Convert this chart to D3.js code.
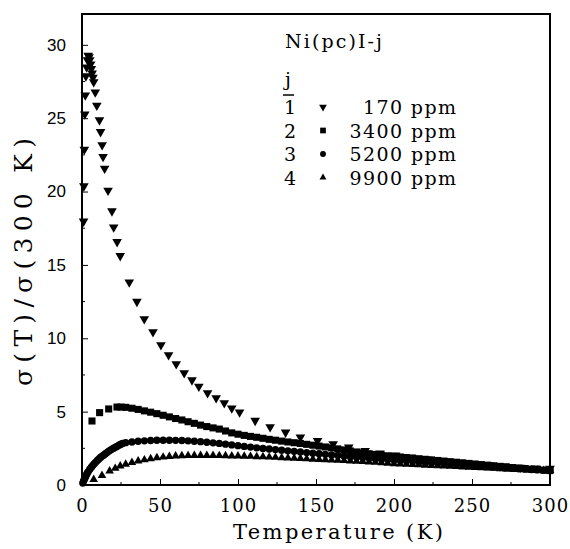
<!DOCTYPE html>
<html>
<head>
<meta charset="utf-8">
<script src="https://cdn.jsdelivr.net/npm/d3@7"></script>
<style>
  body { margin: 0; background: #fff; }
</style>
</head>
<body>
<svg id="chart"></svg>
<script>
// sample 1: 170 ppm (down triangles)
var s1Temp = [1.0, 1.2, 1.5, 1.8, 2.1, 2.5, 3.0, 3.5, 4.0, 4.5, 5.0, 5.5, 6.0, 6.5, 7.0, 7.5, 8.5, 9.5, 11.2, 11.9, 12.9, 13.5, 14.5, 16.7, 19.2, 20.3, 22.5, 24.5, 30.3, 35.2, 39.9, 45.5, 50.6, 55.5, 60.4, 65.5, 70.5, 74.9, 80.5, 86, 91.2, 96, 101, 111, 120.6, 130.5, 140, 151, 161, 171, 181.5, 191, 201, 211, 221, 231, 241, 251, 261, 271, 281, 291, 300];
var s1Val = [17.9, 20.3, 22.8, 25.2, 26.5, 27.8, 28.4, 28.9, 29.2, 29.1, 28.9, 28.6, 28.3, 28.0, 27.7, 27.4, 26.7, 25.8, 24.8, 24.0, 23.1, 22.3, 21.5, 20.0, 18.6, 17.5, 16.5, 15.55, 13.75, 12.43, 11.25, 10.36, 9.48, 8.79, 8.18, 7.57, 7.08, 6.65, 6.2, 5.86, 5.52, 5.16, 4.89, 4.32, 3.88, 3.52, 3.19, 2.95, 2.73, 2.5, 2.27, 2.1, 1.95, 1.8, 1.68, 1.57, 1.47, 1.38, 1.29, 1.2, 1.13, 1.07, 1.05];

// common temperature grid of the dense part (samples 2-4)
var gridTemp = [28, 32, 36, 40, 44, 48, 52, 56, 60, 64, 68, 72, 76, 80, 84, 88, 92, 96, 100, 104, 108, 112, 116, 120, 124, 128, 132, 136, 140, 144, 148, 152, 156, 160, 164, 168, 172, 176, 180, 184, 188, 192, 196, 200, 204, 208, 212, 216, 220, 224, 228, 232, 236, 240, 244, 248, 252, 256, 260, 264, 268, 272, 276, 280, 284, 288, 292, 296, 300];

// sample 2: 3400 ppm (squares)
var s2TempLow = [6.4, 11.3, 17.1, 22.4, 25];
var s2ValLow = [4.43, 5.0, 5.25, 5.38, 5.38];
var s2ValGrid = [5.36, 5.3, 5.22, 5.12, 5.03, 4.93, 4.82, 4.71, 4.6, 4.5,
  4.38, 4.27, 4.15, 4.05, 3.96, 3.88, 3.75, 3.62, 3.53, 3.45,
  3.38, 3.32, 3.25, 3.18, 3.12, 3.06, 3.0, 2.95, 2.9, 2.84,
  2.78, 2.72, 2.66, 2.6, 2.53, 2.46, 2.39, 2.32, 2.26, 2.2,
  2.15, 2.1, 2.06, 2.02, 1.98, 1.94, 1.9, 1.86, 1.82, 1.78,
  1.74, 1.7, 1.66, 1.62, 1.58, 1.54, 1.5, 1.46, 1.42, 1.38,
  1.34, 1.3, 1.26, 1.22, 1.19, 1.15, 1.12, 1.08, 1.05];

// sample 3: 5200 ppm (circles)
var s3TempLow = [0.5, 1, 1.5, 2, 2.5, 3, 3.5, 4, 5, 6, 7, 8, 9, 10, 11, 12, 13, 14, 15, 16, 17, 18, 19, 20, 21, 22, 23, 24, 25, 26];
var s3ValLow = [0.2, 0.34, 0.45, 0.57, 0.68, 0.8, 0.9, 0.98, 1.14, 1.28, 1.42, 1.54, 1.65, 1.76, 1.86, 1.96, 2.04, 2.12, 2.2, 2.28, 2.36, 2.43, 2.5, 2.56, 2.62, 2.68, 2.74, 2.8, 2.85, 2.9];
var s3ValGrid = [2.95, 3.0, 3.05, 3.08, 3.1, 3.12, 3.12, 3.12, 3.11, 3.1,
  3.08, 3.05, 3.02, 2.98, 2.94, 2.9, 2.85, 2.8, 2.75, 2.7,
  2.65, 2.6, 2.56, 2.52, 2.48, 2.44, 2.4, 2.36, 2.32, 2.28,
  2.24, 2.2, 2.16, 2.12, 2.08, 2.04, 2.0, 1.96, 1.93, 1.9,
  1.86, 1.83, 1.8, 1.77, 1.74, 1.71, 1.68, 1.65, 1.62, 1.59,
  1.56, 1.53, 1.5, 1.47, 1.44, 1.41, 1.38, 1.35, 1.32, 1.29,
  1.26, 1.23, 1.2, 1.17, 1.15, 1.12, 1.1, 1.07, 1.05];

// sample 4: 9900 ppm (up triangles)
var s4TempLow = [7.5, 12.8, 17.7, 21.3, 24.5];
var s4ValLow = [0.45, 0.72, 1.02, 1.2, 1.36];
var s4ValGrid = [1.48, 1.6, 1.7, 1.78, 1.86, 1.92, 1.97, 2.01, 2.04, 2.06,
  2.07, 2.08, 2.08, 2.08, 2.08, 2.07, 2.06, 2.05, 2.04, 2.03,
  2.02, 2.0, 1.99, 1.97, 1.95, 1.93, 1.91, 1.89, 1.87, 1.85,
  1.83, 1.81, 1.79, 1.77, 1.75, 1.73, 1.71, 1.69, 1.67, 1.64,
  1.61, 1.58, 1.55, 1.52, 1.5, 1.48, 1.46, 1.44, 1.42, 1.4,
  1.38, 1.36, 1.34, 1.32, 1.3, 1.28, 1.26, 1.24, 1.22, 1.2,
  1.18, 1.16, 1.14, 1.12, 1.1, 1.09, 1.08, 1.06, 1.05];

var legendKeys = ["1", "2", "3", "4"];
var legendLabels = ["170 ppm", "3400 ppm", "5200 ppm", "9900 ppm"];
var xTicks = [0, 50, 100, 150, 200, 250, 300];
var yTicks = [0, 5, 10, 15, 20, 25, 30];

var W = 570, H = 549;
var margin = { top: 14, right: 20, bottom: 64, left: 82 },
  width = W - margin.left - margin.right,
  height = H - margin.top - margin.bottom;

var typew = "'DejaVu Serif', 'Liberation Serif', serif";
var sans = "'Liberation Sans', Arial, sans-serif";

var root = d3.select("#chart").attr("width", W).attr("height", H);
var svg = root.append("g")
  .attr("transform", "translate(" + margin.left + "," + margin.top + ")");

var x = d3.scaleLinear().domain([0, 300]).range([0, width]);
var y = d3.scaleLinear().domain([0, 32.1]).range([height, 0]);

function zip(ts, vs) { return ts.map(function (t, i) { return { t: t, v: vs[i] }; }); }

var series = [
  { key: "1", pts: zip(s1Temp, s1Val), sym: d3.symbolTriangle, size: 40, rot: 180 },
  { key: "2", pts: zip(s2TempLow.concat(gridTemp), s2ValLow.concat(s2ValGrid)), sym: d3.symbolSquare, size: 50, rot: 0 },
  { key: "3", pts: zip(s3TempLow.concat(gridTemp), s3ValLow.concat(s3ValGrid)), sym: d3.symbolCircle, size: 42, rot: 0 },
  { key: "4", pts: zip(s4TempLow.concat(gridTemp), s4ValLow.concat(s4ValGrid)), sym: d3.symbolTriangle, size: 32, rot: 0 }
];

// data points
series.forEach(function (s) {
  svg.append("g").selectAll("path")
    .data(s.pts)
    .join("path")
    .attr("d", d3.symbol().type(s.sym).size(s.size))
    .attr("transform", function (d) {
      var dy = s.rot ? -1 : 1;
      return "translate(" + x(d.t) + "," + (y(d.v) + dy) + ") rotate(" + s.rot + ")";
    })
    .style("fill", "#000");
});

// frame
svg.append("rect")
  .attr("x", 0).attr("y", 0)
  .attr("width", width).attr("height", height)
  .style("fill", "none").style("stroke", "#000").style("stroke-width", 2);

// X axis (ticks pointing in)
var xAxis = svg.append("g")
  .attr("transform", "translate(0," + height + ")")
  .call(d3.axisBottom(x).tickValues(xTicks).tickSize(-6).tickPadding(14));
xAxis.append("g").selectAll("line")
  .data([25, 75, 125, 175, 225, 275])
  .join("line")
  .attr("x1", function (d) { return x(d); }).attr("x2", function (d) { return x(d); })
  .attr("y1", 0).attr("y2", -3)
  .style("stroke", "#000");
xAxis.select(".domain").remove();
xAxis.selectAll("text").style("font-family", typew).style("font-size", "18px")
  .style("letter-spacing", "1px").style("fill", "#000").attr("dy", "0.7em");

// Y axis
var yAxis = svg.append("g")
  .call(d3.axisLeft(y).tickValues(yTicks).tickSize(-6).tickPadding(16));
yAxis.append("g").selectAll("line")
  .data([2.5, 7.5, 12.5, 17.5, 22.5, 27.5])
  .join("line")
  .attr("y1", function (d) { return y(d); }).attr("y2", function (d) { return y(d); })
  .attr("x1", 0).attr("x2", 3)
  .style("stroke", "#000");
yAxis.select(".domain").remove();
yAxis.selectAll("text").style("font-family", sans).style("font-size", "17px").style("fill", "#000");

// axis labels
root.append("text")
  .attr("x", 338).attr("y", 539)
  .attr("text-anchor", "middle")
  .attr("textLength", 210).attr("lengthAdjust", "spacing")
  .style("font-family", typew).style("font-size", "21px")
  .text("Temperature (K)");

root.append("text")
  .attr("transform", "translate(32,262) rotate(-90)")
  .attr("text-anchor", "middle")
  .attr("textLength", 248).attr("lengthAdjust", "spacing")
  .style("font-family", typew).style("font-size", "25px")
  .text("σ(T)/σ(300 K)");

// legend
var leg = root.append("g");
leg.append("text")
  .attr("x", 285).attr("y", 48)
  .attr("textLength", 97).attr("lengthAdjust", "spacing")
  .style("font-family", typew).style("font-size", "19px")
  .text("Ni(pc)I-j");
leg.append("text")
  .attr("x", 285).attr("y", 86)
  .style("font-family", typew).style("font-size", "19px")
  .text("j");
leg.append("line")
  .attr("x1", 283).attr("x2", 294).attr("y1", 95).attr("y2", 95)
  .style("stroke", "#000").style("stroke-width", 1.5);

var rowY = function (i) { return 114 + i * 23.5; };
leg.selectAll("text.num")
  .data(legendKeys)
  .join("text")
  .attr("class", "num")
  .attr("x", 284).attr("y", function (d, i) { return rowY(i); })
  .style("font-family", typew).style("font-size", "19px")
  .text(function (d) { return d; });
leg.selectAll("path.mark")
  .data(series)
  .join("path")
  .attr("class", "mark")
  .attr("d", function (d) { return d3.symbol().type(d.sym).size(d.size * 0.65)(); })
  .attr("transform", function (d, i) { return "translate(323," + (rowY(i) - 7) + ") rotate(" + d.rot + ")"; })
  .style("fill", "#000");
leg.selectAll("text.lab")
  .data(legendLabels)
  .join("text")
  .attr("class", "lab")
  .attr("x", 456).attr("y", function (d, i) { return rowY(i); })
  .attr("text-anchor", "end")
  .attr("textLength", function (d) { return d.length * 13.3; }).attr("lengthAdjust", "spacing")
  .style("font-family", typew).style("font-size", "19px")
  .style("white-space", "pre")
  .text(function (d) { return d; });
</script>
</body>
</html>
